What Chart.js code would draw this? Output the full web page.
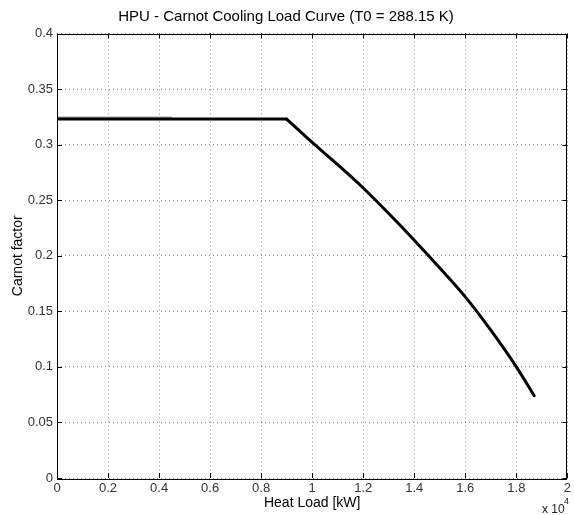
<!DOCTYPE html>
<html lang="en">
<head>
    <meta charset="UTF-8">
    <title>HPU - Carnot Cooling Load Curve</title>
    <script src="https://cdn.jsdelivr.net/npm/chart.js"></script>
    <style>
        body {
            margin: 0;
            background-color: #ffffff;
        }
        canvas {
            display: block;
        }
    </style>
</head>
<body>
    <canvas id="carnotChart" width="574" height="515"></canvas>
    <script>
        // heat load in kW, carnot factor
        const flatLoad = [0, 9000];
        const flatFactor = [0.323, 0.323];
        const curveLoad = [9000, 10000, 11000, 12000, 13000, 14000, 15000, 16000, 17000, 18000, 18700];
        const curveFactor = [0.323, 0.302, 0.282, 0.261, 0.238, 0.214, 0.189, 0.163, 0.133, 0.100, 0.074];

        // short second trace lying just above the flat part
        const overlapLoad = [0, 4500];
        const overlapFactor = [0.3246, 0.3246];

        const xTicks = [0, 2000, 4000, 6000, 8000, 10000, 12000, 14000, 16000, 18000, 20000];
        const yTicks = [0, 0.05, 0.1, 0.15, 0.2, 0.25, 0.3, 0.35, 0.4];

        const FONT = 'Liberation Sans, Arial, sans-serif';

        function toPoints(xs, ys) {
            return xs.map((x, i) => ({ x: x, y: ys[i] }));
        }

        // box, inward tick marks and the x10^4 exponent, matlab style
        const matlabAxes = {
            id: 'matlabAxes',
            afterDraw(chart) {
                const { ctx, chartArea: a, scales } = chart;
                ctx.save();
                ctx.strokeStyle = '#000';
                ctx.lineWidth = 1;
                ctx.beginPath();
                xTicks.forEach(v => {
                    const px = Math.round(scales.x.getPixelForValue(v)) + 0.5;
                    ctx.moveTo(px, a.bottom); ctx.lineTo(px, a.bottom - 5);
                    ctx.moveTo(px, a.top); ctx.lineTo(px, a.top + 5);
                });
                yTicks.forEach(v => {
                    const py = Math.round(scales.y.getPixelForValue(v)) + 0.5;
                    ctx.moveTo(a.left, py); ctx.lineTo(a.left + 5, py);
                    ctx.moveTo(a.right, py); ctx.lineTo(a.right - 5, py);
                });
                ctx.stroke();
                ctx.strokeRect(Math.round(a.left) + 0.5, Math.round(a.top) + 0.5,
                    Math.round(a.right - a.left) - 1, Math.round(a.bottom - a.top));

                ctx.fillStyle = '#222';
                ctx.textBaseline = 'middle';
                ctx.textAlign = 'left';
                ctx.font = '12px ' + FONT;
                ctx.fillText('x 10', 542, 510);
                ctx.font = '9px ' + FONT;
                ctx.fillText('4', 564, 502);
                ctx.restore();
            }
        };

        const ctx = document.getElementById('carnotChart').getContext('2d');
        new Chart(ctx, {
            type: 'line',
            data: {
                datasets: [{
                    label: 'overlap',
                    data: toPoints(overlapLoad, overlapFactor),
                    borderColor: '#444',
                    borderWidth: 1,
                    pointRadius: 0,
                    tension: 0
                }, {
                    label: 'flat',
                    data: toPoints(flatLoad, flatFactor),
                    borderColor: '#000',
                    borderWidth: 3,
                    borderCapStyle: 'round',
                    pointRadius: 0,
                    tension: 0
                }, {
                    label: 'Carnot factor',
                    data: toPoints(curveLoad, curveFactor),
                    borderColor: '#000',
                    borderWidth: 3,
                    borderCapStyle: 'round',
                    pointRadius: 0,
                    cubicInterpolationMode: 'monotone'
                }]
            },
            options: {
                responsive: false,
                animation: false,
                layout: { padding: { left: 0, right: 2, top: 0, bottom: 0 } },
                scales: {
                    x: {
                        type: 'linear',
                        min: 0,
                        max: 20000,
                        afterFit: s => { s.height = 37; },
                        afterBuildTicks: s => { s.ticks = xTicks.map(v => ({ value: v })); },
                        grid: {
                            color: 'rgba(0,0,0,0.45)',
                            drawTicks: false,
                            tickLength: 0
                        },
                        border: { display: false, dash: [1, 3] },
                        ticks: {
                            padding: 3,
                            maxRotation: 0,
                            color: '#333',
                            font: { family: FONT, size: 13 },
                            callback: v => String(+(v / 10000).toFixed(1))
                        },
                        title: {
                            display: true,
                            text: 'Heat Load [kW]',
                            color: '#000',
                            font: { family: FONT, size: 14 },
                            padding: { top: 0, bottom: 3 }
                        }
                    },
                    y: {
                        min: 0,
                        max: 0.4,
                        afterFit: s => { s.width = 57; },
                        afterBuildTicks: s => { s.ticks = yTicks.map(v => ({ value: v })); },
                        grid: {
                            color: 'rgba(0,0,0,0.45)',
                            drawTicks: false,
                            tickLength: 0
                        },
                        border: { display: false, dash: [1, 3] },
                        ticks: {
                            padding: 4,
                            color: '#333',
                            font: { family: FONT, size: 13 },
                            callback: v => String(+v.toFixed(2))
                        },
                        title: {
                            display: true,
                            text: 'Carnot factor',
                            color: '#000',
                            font: { family: FONT, size: 14 },
                            padding: { top: 10, bottom: 0 }
                        }
                    }
                },
                plugins: {
                    legend: { display: false },
                    tooltip: { enabled: false },
                    title: {
                        display: true,
                        text: 'HPU - Carnot Cooling Load Curve (T0 = 288.15 K)',
                        color: '#000',
                        font: { family: FONT, size: 15, weight: 'normal' },
                        padding: { top: 8, bottom: 7.5 }
                    }
                }
            },
            plugins: [matlabAxes]
        });
    </script>
</body>
</html>
